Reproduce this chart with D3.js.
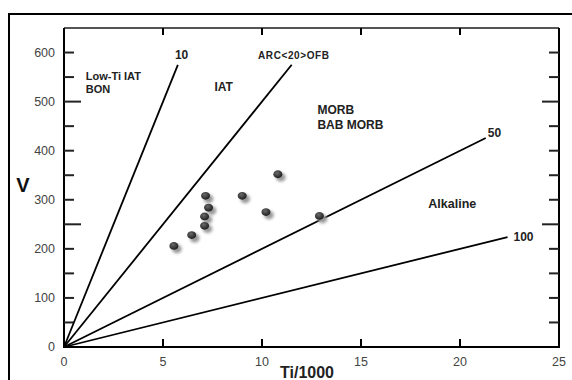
<!DOCTYPE html>
<html>
<head>
<meta charset="utf-8">
<script src="https://cdn.jsdelivr.net/npm/d3@7"></script>
<style>
  body { margin: 0; background: #fff; }
  svg { display: block; font-family: "Liberation Sans", Arial, sans-serif; }
</style>
</head>
<body>
<svg id="chart" width="572" height="380"></svg>
<script>
// Ti/V discriminant lines (Ti/V ratio) and where each line stops on the x axis
const ratios = [10, 20, 50, 100];
const lineEnds = [5.75, 11.5, 21.3, 22.4];

// field labels
const fields = [
  { lines: ['Low-Ti IAT', 'BON'], ti: 1.1, v: 545, size: 11 },
  { lines: ['IAT'], ti: 7.6, v: 521, size: 12 },
  { lines: ['ARC<20>OFB'], ti: 9.8, v: 586, size: 10 },
  { lines: ['MORB', 'BAB MORB'], ti: 12.8, v: 475, size: 12 },
  { lines: ['Alkaline'], ti: 18.4, v: 284, size: 12.5 }
];

// ratio labels next to line ends
const ratioLabels = [
  { text: '10', ti: 5.6, v: 595 },
  { text: '50', ti: 21.4, v: 436 },
  { text: '100', ti: 22.7, v: 224 }
];

// samples: Ti/1000 (ppm) vs V (ppm)
const tiValues = [10.8, 7.15, 9.0, 7.3, 7.1, 10.2, 7.1, 6.45, 5.55, 12.9];
const vValues  = [352, 308, 308, 284, 266, 275, 247, 228, 206, 267];

const svg = d3.select('#chart');
const mLeft = 64, mRight = 559, mTop = 28, mBottom = 347;

const x = d3.scaleLinear().domain([0, 25]).range([mLeft, mRight]);
const y = d3.scaleLinear().domain([0, 650]).range([mBottom, mTop]);

// outer frame (only top and left edges visible)
svg.append('path')
  .attr('d', `M9,380V14H572`)
  .attr('fill', 'none')
  .attr('stroke', '#000')
  .attr('stroke-width', 2);

// defs: marker shadow + shading
const defs = svg.append('defs');
defs.append('filter')
  .attr('id', 'blur')
  .attr('x', '-50%').attr('y', '-50%').attr('width', '200%').attr('height', '200%')
  .append('feGaussianBlur').attr('stdDeviation', 1.6);
const grad = defs.append('radialGradient')
  .attr('id', 'dot').attr('cx', '40%').attr('cy', '35%').attr('r', '65%');
grad.append('stop').attr('offset', '0%').attr('stop-color', '#6a6a6a');
grad.append('stop').attr('offset', '100%').attr('stop-color', '#1e1e1e');

// plot box
svg.append('line')
  .attr('x1', mLeft).attr('x2', mRight).attr('y1', mTop).attr('y2', mTop)
  .attr('stroke', '#555').attr('stroke-width', 2);
svg.append('path')
  .attr('d', `M${mLeft},${mTop}V${mBottom}H${mRight}V${mTop}`)
  .attr('fill', 'none')
  .attr('stroke', '#000')
  .attr('stroke-width', 2);

// y ticks on both sides (every 50, inward)
const yTicks = d3.range(0, 651, 50).filter(v => v > 0 && v < 650);
const tickLen = v => (v === 250 || v === 500) ? 17 : 10;
svg.append('g').selectAll('line')
  .data(yTicks)
  .join('line')
  .attr('x1', mLeft).attr('x2', v => mLeft + tickLen(v))
  .attr('y1', v => y(v)).attr('y2', v => y(v))
  .attr('stroke', '#222').attr('stroke-width', 2);
svg.append('g').selectAll('line')
  .data(yTicks)
  .join('line')
  .attr('x1', mRight).attr('x2', v => mRight - tickLen(v))
  .attr('y1', v => y(v)).attr('y2', v => y(v))
  .attr('stroke', '#222').attr('stroke-width', 2);

// x ticks top and bottom
const xTicks = [5, 10, 15, 20];
svg.append('g').selectAll('line')
  .data(xTicks)
  .join('line')
  .attr('x1', d => x(d)).attr('x2', d => x(d))
  .attr('y1', mBottom).attr('y2', mBottom - 8)
  .attr('stroke', '#000').attr('stroke-width', 2);
svg.append('g').selectAll('line')
  .data(xTicks)
  .join('line')
  .attr('x1', d => x(d)).attr('x2', d => x(d))
  .attr('y1', mTop).attr('y2', mTop + 7)
  .attr('stroke', '#000').attr('stroke-width', 2);

// tick labels
svg.append('g').selectAll('text')
  .data(d3.range(0, 601, 100))
  .join('text')
  .attr('x', mLeft - 9)
  .attr('y', v => y(v))
  .attr('dy', '0.35em')
  .attr('text-anchor', 'end')
  .attr('font-size', 12.5)
  .attr('fill', '#444')
  .text(d => d);
svg.append('g').selectAll('text')
  .data(d3.range(0, 26, 5))
  .join('text')
  .attr('x', d => x(d))
  .attr('y', mBottom + 19)
  .attr('text-anchor', 'middle')
  .attr('font-size', 12.5)
  .attr('fill', '#444')
  .text(d => d);

// axis titles
svg.append('text')
  .attr('x', 307).attr('y', 378)
  .attr('text-anchor', 'middle')
  .attr('font-size', 16).attr('font-weight', 'bold')
  .attr('fill', '#222')
  .text('Ti/1000');
svg.append('text')
  .attr('x', 23).attr('y', 192)
  .attr('text-anchor', 'middle')
  .attr('font-size', 20).attr('font-weight', 'bold')
  .attr('fill', '#111')
  .text('V');

// Ti/V lines: V = 1000 * Ti/1000 / ratio
const line = d3.line().x(d => x(d[0])).y(d => y(d[1]));
svg.append('g').selectAll('path')
  .data(ratios.map((r, i) => [[0, 0], [lineEnds[i], lineEnds[i] * 1000 / r]]))
  .join('path')
  .attr('d', line)
  .attr('fill', 'none')
  .attr('stroke', '#000')
  .attr('stroke-width', 1.8);

// ratio labels
svg.append('g').selectAll('text')
  .data(ratioLabels)
  .join('text')
  .attr('x', d => x(d.ti))
  .attr('y', d => y(d.v))
  .attr('dy', '0.35em')
  .attr('font-size', 12).attr('font-weight', 'bold')
  .attr('fill', '#222')
  .text(d => d.text);

// field labels
const fg = svg.append('g').selectAll('text')
  .data(fields)
  .join('text')
  .attr('x', d => x(d.ti))
  .attr('y', d => y(d.v))
  .attr('font-size', d => d.size)
  .attr('font-weight', 'bold')
  .attr('letter-spacing', d => d.size === 10 ? 0.6 : 0)
  .attr('fill', '#222');
fg.selectAll('tspan')
  .data(d => d.lines.map((t, i) => ({ t, i, ti: d.ti, size: d.size })))
  .join('tspan')
  .attr('x', d => x(d.ti))
  .attr('dy', d => d.i === 0 ? 0 : d.size * 1.25)
  .text(d => d.t);

// samples
const pts = tiValues.map((t, i) => [t, vValues[i]]);
svg.append('g').selectAll('ellipse')
  .data(pts)
  .join('ellipse')
  .attr('cx', d => x(d[0]) + 3)
  .attr('cy', d => y(d[1]) + 3)
  .attr('rx', 4.8).attr('ry', 4.3)
  .attr('fill', '#999')
  .attr('filter', 'url(#blur)');
svg.append('g').selectAll('ellipse')
  .data(pts)
  .join('ellipse')
  .attr('cx', d => x(d[0]))
  .attr('cy', d => y(d[1]))
  .attr('rx', 4.5).attr('ry', 3.9)
  .attr('fill', 'url(#dot)');
</script>
</body>
</html>
